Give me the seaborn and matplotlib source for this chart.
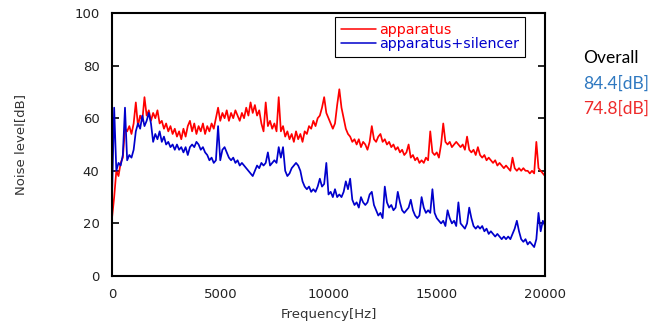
import numpy as np
import pandas as pd
import matplotlib
matplotlib.use("Agg")
import matplotlib.pyplot as plt
import seaborn as sns
from matplotlib.lines import Line2D

# Frequency grid (Hz) read every 100 Hz
freq = list(range(0, 20001, 100))

apparatus = [
    22, 30, 40, 38, 43, 45, 56, 55, 57, 54,
    58, 66, 57, 61, 59, 68, 61, 63, 59, 62,
    60, 63, 58, 59, 56, 58, 55, 57, 54, 56,
    53, 55, 52, 56, 53, 57, 59, 55, 58, 54,
    57, 55, 58, 54, 57, 55, 58, 56, 60, 64,
    59, 62, 60, 63, 59, 62, 60, 63, 61, 59,
    62, 60, 64, 61, 66, 62, 65, 61, 63, 58,
    55, 66, 57, 59, 56, 58, 55, 68, 55, 57,
    53, 55, 52, 54, 51, 55, 52, 54, 51, 55,
    54, 57, 56, 59, 57, 60, 61, 64, 68, 62,
    60, 58, 56, 58, 65, 71, 64, 60, 56, 54,
    53, 51, 52, 50, 52, 49, 51, 50, 48, 51,
    57, 52, 51, 53, 54, 51, 52, 50, 51, 49,
    50, 48, 49, 47, 48, 46, 47, 50, 45, 46,
    44, 45, 43, 44, 43, 45, 44, 55, 47, 46,
    47, 45, 50, 58, 51, 50, 51, 49, 50, 51,
    50, 49, 50, 48, 53, 48, 47, 48, 46, 49,
    46, 45, 46, 44, 45, 44, 43, 44, 42, 43,
    42, 41, 42, 41, 40, 45, 41, 40, 41, 40,
    41, 40, 40, 39, 40, 39, 51, 41, 40, 39,
    38,
]

apparatus_silencer = [
    30, 64, 40, 43, 42, 46, 64, 44, 46, 45,
    48, 55, 58, 56, 61, 57, 59, 62, 58, 51,
    54, 52, 55, 51, 53, 50, 51, 49, 50, 48,
    50, 48, 49, 47, 49, 46, 49, 50, 49, 51,
    50, 48, 49, 47, 46, 44, 45, 43, 44, 57,
    44, 48, 49, 47, 45, 44, 45, 43, 44, 42,
    43, 42, 41, 40, 39, 38, 40, 42, 41, 43,
    42, 43, 47, 42, 43, 44, 43, 49, 45, 49,
    40, 38, 39, 41, 42, 43, 42, 40, 36, 34,
    33, 34, 32, 33, 32, 34, 37, 34, 35, 43,
    31, 32, 30, 33, 30, 31, 30, 32, 36, 33,
    37, 29, 27, 28, 26, 30, 28, 27, 28, 31,
    32, 27, 25, 23, 24, 22, 34, 28, 26, 27,
    25, 26, 32, 28, 25, 24, 25, 26, 29, 25,
    23, 22, 23, 30, 26, 24, 25, 24, 33, 24,
    22, 21, 20, 21, 19, 25, 22, 20, 21, 19,
    28, 20, 19, 18, 20, 26, 22, 19, 18, 19,
    18, 19, 17, 18, 16, 17, 16, 15, 16, 15,
    14, 15, 14, 15, 14, 16, 18, 21, 17, 14,
    13, 14, 12, 13, 12, 11, 14, 24, 17, 21,
    19,
]

series_names = ["apparatus", "apparatus+silencer"]
overall_label = "Overall"
overall_values = ["84.4[dB]", "74.8[dB]"]

df = pd.DataFrame({
    "freq": freq * 2,
    "level": apparatus + apparatus_silencer,
    "series": [series_names[0]] * len(freq) + [series_names[1]] * len(freq),
})

sns.set_style("white")
plt.rcParams["font.family"] = ["DejaVu Sans"]

fig = plt.figure(figsize=(6.71, 3.29), dpi=100)
ax = fig.add_axes([112 / 671, 1 - 276 / 329, 433 / 671, 263 / 329])

palette = {series_names[0]: "#ff0000", series_names[1]: "#0000cc"}
sns.lineplot(data=df, x="freq", y="level", hue="series", palette=palette,
             linewidth=1.25, ax=ax, legend=False, estimator=None)

ax.set_xlim(0, 20000)
ax.set_ylim(0, 100)
ax.set_xticks([0, 5000, 10000, 15000, 20000])
ax.set_yticks([0, 20, 40, 60, 80, 100])
ax.tick_params(axis="y", direction="in", length=5, width=1.2, left=True,
               right=True, labelsize=9.5, pad=9, colors="black")
ax.tick_params(axis="x", length=0, labelsize=9.5, pad=9)
for lab in ax.get_xticklabels() + ax.get_yticklabels():
    lab.set_color("#222222")
for s in ax.spines.values():
    s.set_color("black")
    s.set_linewidth(1.5)

ax.set_xlabel("Frequency[Hz]", fontsize=9.5, labelpad=5, color="#333333")
ax.set_ylabel("Noise level[dB]", fontsize=9.5, labelpad=34, color="#333333")

handles = [Line2D([0], [0], color=palette[n], lw=1.1) for n in series_names]
leg = ax.legend(handles, series_names, loc="upper left",
                bbox_to_anchor=(223 / 433, 1 - 4 / 263), fontsize=10.3,
                frameon=True, fancybox=False, framealpha=1,
                edgecolor="black", handlelength=2.5, handletextpad=0.2,
                borderpad=0.4, labelspacing=0.05, borderaxespad=0,
                labelcolor="linecolor")
leg.get_frame().set_linewidth(0.8)

fig.text(583 / 671, 1 - 58 / 329, overall_label, fontsize=12.5,
         family=["Lato", "DejaVu Sans"], va="center", ha="left", color="black")
fig.text(583 / 671, 1 - 84 / 329, overall_values[0], fontsize=12.5,
         family=["Lato", "DejaVu Sans"], va="center", ha="left", color="#2e78c0")
fig.text(583 / 671, 1 - 109 / 329, overall_values[1], fontsize=12.5,
         family=["Lato", "DejaVu Sans"], va="center", ha="left", color="#ee2a2a")

fig.savefig("out.png", dpi=100)
